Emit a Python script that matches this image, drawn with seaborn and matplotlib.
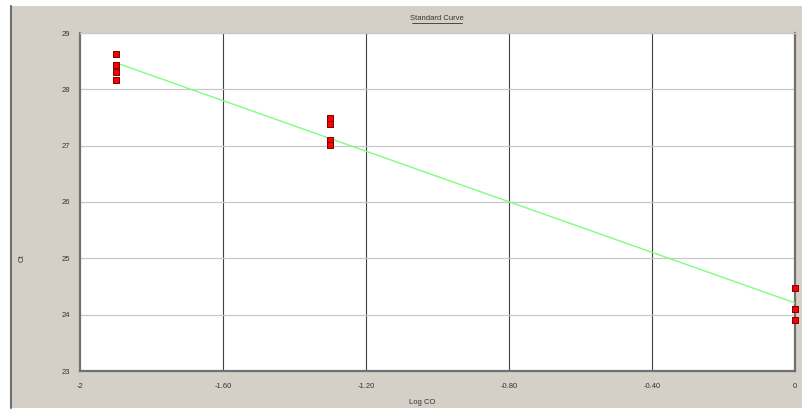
import numpy as np
import pandas as pd
import matplotlib
matplotlib.use("Agg")
import matplotlib.pyplot as plt
from matplotlib.patches import Rectangle
from matplotlib.lines import Line2D
import seaborn as sns

# Data
log_co = [-1.9, -1.9, -1.9, -1.9, -1.3, -1.3, -1.3, -1.3, 0.0, 0.0, 0.0]
ct = [28.63, 28.44, 28.31, 28.17, 27.49, 27.39, 27.10, 27.02, 24.47, 24.10, 23.90]
x_ticks = [-2, -1.6, -1.2, -0.8, -0.4, 0]
x_tick_labels = ["-2", "-1.60", "-1.20", "-0.80", "-0.40", "0"]
y_ticks = [23, 24, 25, 26, 27, 28, 29]
y_tick_labels = ["23", "24", "25", "26", "27", "28", "29"]

df = pd.DataFrame({"Log CO": log_co, "Ct": ct})

sns.set_style("white")
plt.rcParams["font.family"] = ["Liberation Sans", "DejaVu Sans"]

W, H = 803, 412
fig = plt.figure(figsize=(W / 100, H / 100), dpi=100, facecolor="white")

# grey window panel
fig.patches.append(Rectangle((12 / W, 4 / H), 1 - 12 / W, (408 - 6) / H,
                             transform=fig.transFigure, facecolor="#D4D0C8",
                             edgecolor="none", zorder=-10))
fig.lines.append(Line2D([11.5 / W, 11.5 / W], [4 / H, 406 / H], transform=fig.transFigure,
                        color="#707070", lw=1.5, zorder=-5))

ax = fig.add_axes([80 / W, (H - 371) / H, (795 - 80) / W, (371 - 33) / H])
ax.set_zorder(5)
ax.set_facecolor("white")

# regression line
sns.regplot(data=df, x="Log CO", y="Ct", ax=ax, ci=None, scatter=False,
            truncate=True, line_kws={"color": "#7CFF7C", "lw": 1.0, "zorder": 3})
# points
sns.scatterplot(data=df, x="Log CO", y="Ct", ax=ax, marker="s", s=24,
                color="#FF0000", edgecolor="#7A0000", linewidth=0.7, zorder=4,
                clip_on=False)

ax.set_xlim(-2, 0)
ax.set_ylim(23, 29)
ax.set_xticks(x_ticks)
ax.set_xticklabels(x_tick_labels)
ax.set_yticks(y_ticks)
ax.set_yticklabels(y_tick_labels)
ax.tick_params(axis="both", length=0, labelsize=5.5, colors="#333333")
ax.tick_params(axis="x", pad=9)
ax.tick_params(axis="y", pad=7)

# grid
for xv in x_ticks[1:-1]:
    ax.axvline(xv, color="#404040", lw=0.8, zorder=1)
for yv in y_ticks[1:-1]:
    ax.axhline(yv, color="#C8C8C8", lw=0.9, zorder=1)

for side in ["left", "bottom", "right"]:
    ax.spines[side].set_color("#707070")
    ax.spines[side].set_linewidth(1.6)
ax.spines["top"].set_color("#C8C8C8")
ax.spines["top"].set_linewidth(1.0)

ax.set_xlabel("")
ax.set_ylabel("")
fig.text(422 / W, 1 - 403 / H, "Log CO", ha="center", va="center", fontsize=5.5, color="#333333")
fig.text(22 / W, 1 - 258 / H, "Ct", ha="center", va="center", rotation=90, fontsize=5.5, color="#333333")

t = fig.text(437 / W, 1 - 18 / H, "Standard Curve", ha="center", va="center", fontsize=5.5, color="#333333")
fig.lines.append(Line2D([412 / W, 462 / W], [1 - 22.5 / H, 1 - 22.5 / H], transform=fig.transFigure,
                        color="#333333", lw=0.6))

fig.savefig("out.png", dpi=100, facecolor=fig.get_facecolor())
